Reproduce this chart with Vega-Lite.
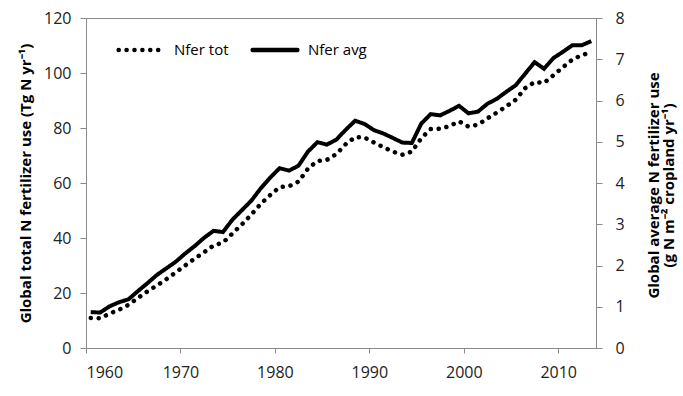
{
  "$schema": "https://vega.github.io/schema/vega-lite/v6.json",
  "width": 510,
  "height": 330,
  "autosize": {"type": "none"},
  "padding": {"left": 86, "top": 18, "right": 87, "bottom": 48},
  "background": "white",
  "config": {
    "view": {"stroke": "#8a8a8a", "strokeWidth": 1},
    "font": "Open Sans",
    "axis": {
      "grid": false,
      "domainColor": "#8a8a8a",
      "tickColor": "#8a8a8a",
      "labelColor": "#222222",
      "labelFont": "Open Sans",
      "labelFontSize": 16,
      "titleFont": "Open Sans",
      "titleFontSize": 15,
      "titleFontWeight": "bold",
      "titleColor": "#000000"
    }
  },
  "data": {
    "values": [
      {"year": 1960.5, "tot": 10.9, "avg": 0.87},
      {"year": 1961.5, "tot": 10.8, "avg": 0.86},
      {"year": 1962.5, "tot": 12.5, "avg": 1.01},
      {"year": 1963.5, "tot": 13.9, "avg": 1.11},
      {"year": 1964.5, "tot": 15.7, "avg": 1.18},
      {"year": 1965.5, "tot": 18.2, "avg": 1.38},
      {"year": 1966.5, "tot": 20.6, "avg": 1.57},
      {"year": 1967.5, "tot": 22.7, "avg": 1.77},
      {"year": 1968.5, "tot": 25.0, "avg": 1.93},
      {"year": 1969.5, "tot": 27.5, "avg": 2.09},
      {"year": 1970.5, "tot": 30.0, "avg": 2.29},
      {"year": 1971.5, "tot": 32.5, "avg": 2.47},
      {"year": 1972.5, "tot": 34.8, "avg": 2.67},
      {"year": 1973.5, "tot": 37.3, "avg": 2.84},
      {"year": 1974.5, "tot": 38.3, "avg": 2.81},
      {"year": 1975.5, "tot": 41.6, "avg": 3.11},
      {"year": 1976.5, "tot": 44.9, "avg": 3.34},
      {"year": 1977.5, "tot": 48.5, "avg": 3.57},
      {"year": 1978.5, "tot": 52.4, "avg": 3.87},
      {"year": 1979.5, "tot": 55.6, "avg": 4.13},
      {"year": 1980.5, "tot": 58.5, "avg": 4.36},
      {"year": 1981.5, "tot": 58.8, "avg": 4.30},
      {"year": 1982.5, "tot": 60.5, "avg": 4.42},
      {"year": 1983.5, "tot": 65.2, "avg": 4.76},
      {"year": 1984.5, "tot": 68.0, "avg": 4.99},
      {"year": 1985.5, "tot": 68.4, "avg": 4.93},
      {"year": 1986.5, "tot": 70.5, "avg": 5.05},
      {"year": 1987.5, "tot": 74.1, "avg": 5.29},
      {"year": 1988.5, "tot": 76.7, "avg": 5.51},
      {"year": 1989.5, "tot": 76.5, "avg": 5.43},
      {"year": 1990.5, "tot": 74.7, "avg": 5.28},
      {"year": 1991.5, "tot": 73.0, "avg": 5.20},
      {"year": 1992.5, "tot": 71.4, "avg": 5.09},
      {"year": 1993.5, "tot": 70.3, "avg": 4.98},
      {"year": 1994.5, "tot": 71.4, "avg": 4.97},
      {"year": 1995.5, "tot": 76.3, "avg": 5.44},
      {"year": 1996.5, "tot": 79.6, "avg": 5.67},
      {"year": 1997.5, "tot": 79.7, "avg": 5.64},
      {"year": 1998.5, "tot": 80.7, "avg": 5.75},
      {"year": 1999.5, "tot": 82.4, "avg": 5.87},
      {"year": 2000.5, "tot": 80.5, "avg": 5.69},
      {"year": 2001.5, "tot": 81.2, "avg": 5.73},
      {"year": 2002.5, "tot": 83.5, "avg": 5.92},
      {"year": 2003.5, "tot": 85.6, "avg": 6.04},
      {"year": 2004.5, "tot": 87.9, "avg": 6.21},
      {"year": 2005.5, "tot": 90.3, "avg": 6.37},
      {"year": 2006.5, "tot": 94.5, "avg": 6.65},
      {"year": 2007.5, "tot": 96.7, "avg": 6.93},
      {"year": 2008.5, "tot": 96.4, "avg": 6.77},
      {"year": 2009.5, "tot": 99.2, "avg": 7.03},
      {"year": 2010.5, "tot": 102.1, "avg": 7.18},
      {"year": 2011.5, "tot": 104.9, "avg": 7.34},
      {"year": 2012.5, "tot": 106.5, "avg": 7.34},
      {"year": 2013.5, "tot": 107.6, "avg": 7.44}
    ]
  },
  "encoding": {
    "x": {
      "field": "year",
      "type": "quantitative",
      "scale": {"domain": [1960, 2014], "nice": false, "zero": false},
      "axis": {
        "values": [1960, 1970, 1980, 1990, 2000, 2010],
        "format": "d",
        "title": null,
        "tickSize": 5,
        "labelPadding": 11
      }
    }
  },
  "layer": [
    {
      "mark": {"type": "line", "strokeWidth": 4.5, "strokeCap": "round", "color": "black"},
      "encoding": {
        "y": {
          "field": "tot",
          "type": "quantitative",
          "scale": {"domain": [0, 120], "nice": false},
          "axis": {
            "values": [0, 20, 40, 60, 80, 100, 120],
            "title": "Global total N fertilizer use (Tg N yr⁻¹)",
            "tickSize": 6,
            "labelPadding": 9,
            "titleX": -61,
            "titleY": 165,
            "titleAngle": -90,
            "titleAlign": "center",
            "titleBaseline": "middle"
          }
        },
        "strokeDash": {
          "datum": "Nfer tot",
          "type": "nominal",
          "scale": {"domain": ["Nfer tot", "Nfer avg"], "range": [[0.1, 7.8], [1, 0]]},
          "legend": {
            "orient": "none",
            "legendX": 30,
            "legendY": 7,
            "direction": "horizontal",
            "title": null,
            "padding": 0,
            "symbolType": "stroke",
            "symbolSize": 2000,
            "symbolStrokeWidth": 4.5,
            "symbolStrokeColor": "black",
            "labelFont": "Open Sans",
            "labelFontSize": 15,
            "labelColor": "#000000",
            "labelOffset": 8,
            "columnPadding": 14,
            "encode": {"symbols": {"update": {"strokeCap": {"value": "round"}}}}
          }
        }
      }
    },
    {
      "mark": {"type": "line", "strokeWidth": 4, "color": "black"},
      "encoding": {
        "y": {
          "field": "avg",
          "type": "quantitative",
          "scale": {"domain": [0, 8], "nice": false},
          "axis": {
            "orient": "right",
            "values": [0, 1, 2, 3, 4, 5, 6, 7, 8],
            "title": ["Global  average N fertilizer use", "(g N m⁻² cropland yr⁻¹)"],
            "tickSize": 6,
            "labelPadding": 13,
            "titleX": 57,
            "titleY": 167,
            "titleAngle": -90,
            "titleAlign": "center",
            "titleBaseline": "middle",
            "titleLineHeight": 15
          }
        },
        "strokeDash": {"datum": "Nfer avg", "type": "nominal"}
      }
    }
  ],
  "resolve": {"scale": {"y": "independent"}}
}
